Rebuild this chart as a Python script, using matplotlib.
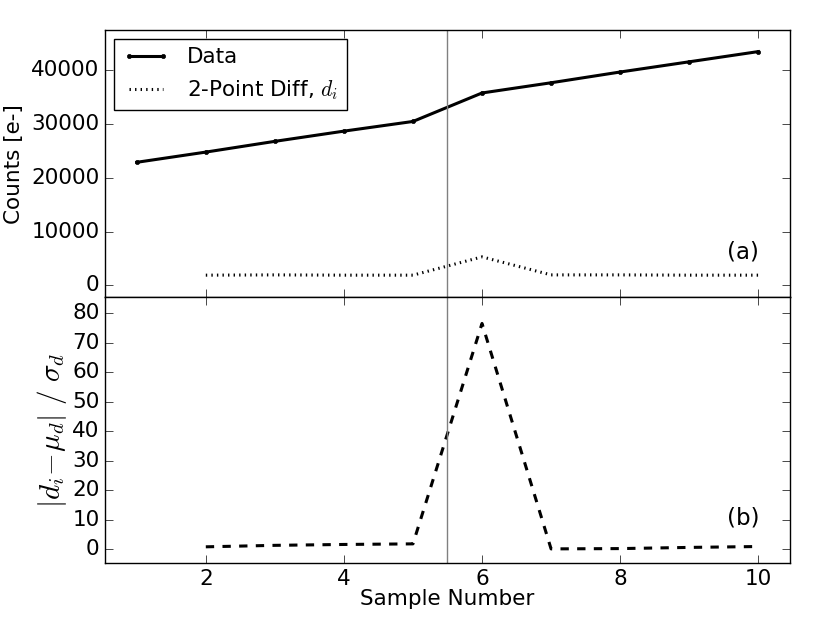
import numpy as np
import matplotlib.pyplot as plt

plt.style.use('classic')
plt.rcParams['font.family'] = ['DejaVu Sans']
plt.rcParams['mathtext.fontset'] = 'cm'
plt.rcParams['font.size'] = 15

# sample numbers and counts
samples = [1, 2, 3, 4, 5, 6, 7, 8, 9, 10]
counts = [22900, 24800, 26800, 28700, 30500, 35800, 37700, 39700, 41600, 43500]

# 2-point difference
diff_x = [2, 3, 4, 5, 6, 7, 8, 9, 10]
diff = [1900, 1950, 1900, 1900, 5300, 1950, 1950, 1900, 1900]

# normalised deviation |d_i - mu_d| / sigma_d
dev = [0.8, 1.3, 1.6, 1.8, 76.5, 0.1, 0.2, 0.6, 0.9]

jump = 5.5

fig = plt.figure(figsize=(8.3, 6.27), dpi=100, facecolor='white')
ax1 = fig.add_axes([0.1265, 0.526, 0.8253, 0.426])
ax2 = fig.add_axes([0.1265, 0.102, 0.8253, 0.424], sharex=ax1)

ax1.plot(samples, counts, 'k-', marker='.', markersize=6, lw=2.2, label='Data')
ax1.plot(diff_x, diff, 'k:', lw=2.2, label='2-Point Diff, $d_i$')
ax1.axvline(jump, color='grey', lw=1)
ax1.set_ylim(-2200, 47500)
ax1.set_yticks([0, 10000, 20000, 30000, 40000])
ax1.set_ylabel('Counts [e-]', fontsize=15.5)
ax1.text(0.955, 0.17, '(a)', transform=ax1.transAxes, ha='right', va='center',
         fontsize=16.5)
leg = ax1.legend(loc='upper left', fontsize=15.5, handlelength=2.2, borderaxespad=0.4)
leg.get_frame().set_linewidth(1)
plt.setp(ax1.get_xticklabels(), visible=False)

ax2.plot(diff_x, dev, 'k--', lw=2.2)
ax2.axvline(jump, color='grey', lw=1)
ax2.set_xlim(0.54, 10.46)
ax2.set_ylim(-4.7, 85.4)
ax2.set_yticks(np.arange(0, 81, 10))
ax2.set_xticks([2, 4, 6, 8, 10])
ax2.set_xlabel('Sample Number', labelpad=0, fontsize=15.5)
ax2.set_ylabel(r'$|d_i\!-\!\mu_d|\ /\ \sigma_d$', fontsize=21, labelpad=2)
ax2.text(0.955, 0.17, '(b)', transform=ax2.transAxes, ha='right', va='center',
         fontsize=16.5)

for ax in (ax1, ax2):
    ax.tick_params(direction='in', length=6, top=True, right=True, labelsize=15.5)

fig.savefig('out.png', dpi=100, facecolor='white')
